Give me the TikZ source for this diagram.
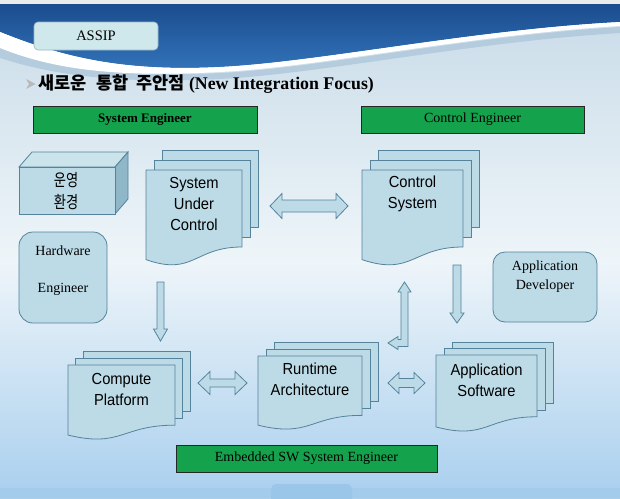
\documentclass[tikz,border=0pt]{standalone}
\usepackage{fontspec}
\setmainfont{Liberation Serif}
\newfontfamily\kfont{Noto Sans CJK KR}
\newfontfamily\kcube[FakeStretch=0.78]{Noto Sans CJK KR}
\newfontfamily\docfont[FakeStretch=0.92]{Liberation Sans}
\usetikzlibrary{calc}

\definecolor{docfill}{HTML}{BCDBE7}
\definecolor{docline}{HTML}{55839C}
\definecolor{grn}{HTML}{14A34C}
\definecolor{bandtop}{HTML}{1A4A8C}
\definecolor{bandbot}{HTML}{3374BB}
\definecolor{bgA}{HTML}{C8DBE8}
\definecolor{bgB}{HTML}{EEF5F9}
\definecolor{bgC}{HTML}{A9CFEE}
\definecolor{assipfill}{HTML}{CFE8EB}
\definecolor{cubetop}{HTML}{CBE4EC}
\definecolor{cubeside}{HTML}{90B7C7}
\definecolor{swshadow}{HTML}{A9C4D8}
\definecolor{bottomband}{HTML}{A3CBEC}
\definecolor{bottomtab}{HTML}{9AC6EA}

\tikzset{
  docshape/.style={draw=docline, fill=docfill, line width=0.8pt},
  blockarr/.style={draw=docline, fill=docfill, line width=0.8pt},
  greenbox/.style={draw=black!85, fill=grn, line width=1pt, inner sep=0pt,
    font=\fontsize{14}{16}\selectfont},
  softbox/.style={draw=docline, fill=docfill, line width=0.8pt, inner sep=0pt},
  doctext/.style={font=\docfont\fontsize{16}{21}\selectfont, align=center, inner sep=0pt},
  serftext/.style={font=\fontsize{14}{17}\selectfont, align=center, inner sep=0pt}
}

\newcommand\mdoc[9]{%
  \draw[docshape] (#2+2*#6,#3-2*#7) rectangle (#2+2*#6+#4,#3-2*#7+0.802*#5);
  \draw[docshape] (#2+#6,#3-#7) rectangle (#2+#6+#4,#3-#7+0.802*#5);
  \draw[docshape] (#2,#3) -- (#2+#4,#3) -- (#2+#4,#3+0.802*#5)
     .. controls (#2+0.5*#4,#3+0.802*#5) and (#2+0.5*#4,#3+1.1075*#5) .. (#2,#3+0.934*#5) -- cycle;
  \node[doctext] (#1) at (#2+0.5*#4,#3+#9) {#8};
}
% horizontal double block arrow: left tip, right tip, head length, head half width, shaft half width
\newcommand\hdarrow[5]{%
  \draw[blockarr] (#1) -- ($(#1)+(#3,-#4)$) -- ($(#1)+(#3,-#5)$) -- ($(#2)+(-#3,-#5)$)
    -- ($(#2)+(-#3,-#4)$) -- (#2) -- ($(#2)+(-#3,#4)$) -- ($(#2)+(-#3,#5)$)
    -- ($(#1)+(#3,#5)$) -- ($(#1)+(#3,#4)$) -- cycle;
}
% vertical down block arrow: start (top centre), tip, head length, head half width, shaft half width
\newcommand\vdarrow[5]{%
  \draw[blockarr] ($(#1)+(-#5,0)$) -- ($(#2)+(-#5,-#3)$) -- ($(#2)+(-#4,-#3)$) -- (#2)
    -- ($(#2)+(#4,-#3)$) -- ($(#2)+(#5,-#3)$) -- ($(#1)+(#5,0)$) -- cycle;
}

\begin{document}
\begin{tikzpicture}[x=1pt,y=-1pt]
\useasboundingbox (0,0) rectangle (620,498);

% ---------- background ----------
\shade[top color=bgA, bottom color=bgB] (0,0) rectangle (620,262);
\shade[top color=bgB, bottom color=bgC] (0,260) rectangle (620,498);
\fill[bottomband] (0,488) rectangle (620,498);
\fill[bottomtab, rounded corners=5] (271,505) -- (271,484) -- (352,484) -- (352,505) -- cycle;

% dark sky band
\shade[top color=bandtop, bottom color=bandbot]
  (0,0) -- (620,0) -- (620,22) .. controls (470,30) and (320,62) .. (220,67)
  .. controls (120,72) and (60,56) .. (0,32) -- cycle;
\fill[black!8] (0,0) rectangle (620,4);
% swoosh
\fill[swshadow, opacity=0.7]
  (0,46) .. controls (50,66) and (110,78) .. (220,73)
  .. controls (320,68) and (470,36) .. (620,27) -- (620,33)
  .. controls (470,42) and (320,74) .. (220,79)
  .. controls (110,84) and (50,74) .. (0,58) -- cycle;
\fill[white]
  (0,32) .. controls (60,56) and (120,72) .. (220,67)
  .. controls (320,62) and (470,30) .. (620,22) -- (620,26)
  .. controls (470,35) and (320,67) .. (220,72)
  .. controls (110,78) and (50,68) .. (0,48) -- cycle;

% ---------- header ----------
\node[draw=docline!60, fill=assipfill, rounded corners=4, line width=0.6pt,
      minimum width=124, minimum height=28, inner sep=0pt,
      font=\fontsize{14.5}{16}\selectfont] (assip) at (96,36) {ASSIP};

\fill[gray!55] (26,79) -- (35.5,84) -- (26,89) -- (29,84) -- cycle;
\node[anchor=west, inner sep=0pt] (title) at (38,84)
  {{\kfont\bfseries\fontsize{17.5}{20}\selectfont 새로운\hspace{10pt}통합\hspace{8pt}주안점}\hspace{4pt}{\bfseries\fontsize{17.8}{20}\selectfont (New Integration Focus)}};

% ---------- green role bars ----------
\node[greenbox, minimum width=224, minimum height=27] (se) at (145,119.5)
  {\fontsize{13}{15}\selectfont\bfseries System Engineer};
\node[greenbox, minimum width=223, minimum height=27] (ce) at (472.5,119.5)
  {Control Engineer};
\node[greenbox, minimum width=261, minimum height=27] (esw) at (306.5,458.5)
  {Embedded SW System Engineer};

% ---------- cube ----------
\draw[docshape, fill=cubetop] (19,167) -- (32,152) -- (128,152) -- (115,167) -- cycle;
\draw[docshape, fill=cubeside] (115,167) -- (128,152) -- (128,199) -- (115,214) -- cycle;
\draw[docshape] (19,167) rectangle (115,214);
\node[font=\kcube\fontsize{17}{22}\selectfont, align=center, inner sep=0pt] (env) at (66,191) {운영\\환경};

% ---------- rounded boxes ----------
\node[softbox, rounded corners=14, minimum width=88, minimum height=91] (hwbox) at (63,277.5) {};
\node[serftext] (hw) at (63,270.5) {Hardware\\[20pt]Engineer};
\node[softbox, rounded corners=12, minimum width=104, minimum height=70] (adbox) at (545,287) {};
\node[serftext, font=\fontsize{14}{19}\selectfont] (ad) at (545,276.5) {Application\\Developer};

% ---------- documents ----------
\mdoc{suc}{146}{170}{96}{96}{8}{10}{System\\Under\\Control}{34}
\mdoc{cs}{362}{170}{101}{96}{8}{10}{Control\\System}{23.5}
\mdoc{cp}{68}{365}{107}{75}{7.5}{7}{Compute\\Platform}{24}
\mdoc{ra}{258}{356}{104}{74}{8}{7}{Runtime\\Architecture}{23}
\mdoc{as}{436}{355}{101}{77}{8}{6.5}{Application\\Software}{25}

% ---------- block arrows ----------
\coordinate (a1l) at (270,206);   \coordinate (a1r) at (348,206);
\coordinate (a2l) at (198,383);   \coordinate (a2r) at (247,383);
\coordinate (a3l) at (388,383);   \coordinate (a3r) at (425,383);
\coordinate (d1s) at (160.5,282); \coordinate (d1t) at (160.5,341);
\coordinate (d2s) at (457,265);   \coordinate (d2t) at (457,323);
\coordinate (bt) at (404.5,282);  \coordinate (bc) at (404.5,343);
\coordinate (bl) at (388,343);

\hdarrow{a1l}{a1r}{12}{12.5}{6}
\hdarrow{a2l}{a2r}{12}{11.5}{4}
\hdarrow{a3l}{a3r}{11}{10.5}{4.5}
\vdarrow{d1s}{d1t}{12}{7}{3.5}
\vdarrow{d2s}{d2t}{10}{7}{4}
\draw[blockarr] (bt) -- ($(bt)+(6.5,10)$) -- ($(bt)+(3.5,10)$) -- ($(bc)+(3.5,3.5)$)
  -- ($(bl)+(10,3.5)$) -- ($(bl)+(10,6.5)$) -- (bl) -- ($(bl)+(10,-6.5)$)
  -- ($(bl)+(10,-3.5)$) -- ($(bc)+(-3.5,-3.5)$) -- ($(bt)+(-3.5,10)$)
  -- ($(bt)+(-6.5,10)$) -- cycle;
\end{tikzpicture}
\end{document}
